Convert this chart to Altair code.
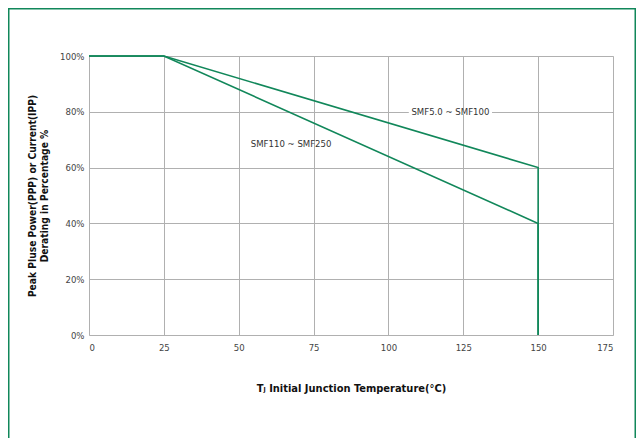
import altair as alt
import pandas as pd

temp_a = [0, 25, 150, 150]
pct_a = [100, 100, 60, 0]
temp_b = [0, 25, 150, 150]
pct_b = [100, 100, 40, 0]
series_names = ["SMF5.0 ~ SMF100", "SMF110 ~ SMF250"]
label_x = [120.7, 67.5]
label_y = [80, 68.5]
label_gap = [[106.8, 134.6], [None, None]]
x_ticks = [0, 25, 50, 75, 100, 125, 150, 175]
y_ticks = [0, 20, 40, 60, 80, 100]

rows = []
for i, (t, p) in enumerate(zip(temp_a, pct_a)):
    rows.append({"series": series_names[0], "order": i, "t": t, "p": p})
for i, (t, p) in enumerate(zip(temp_b, pct_b)):
    rows.append({"series": series_names[1], "order": i, "t": t, "p": p})
df = pd.DataFrame(rows)

lab = pd.DataFrame({"name": series_names, "x": label_x, "y": label_y})
gap = pd.DataFrame({"x": [label_gap[0][0]], "x2": [label_gap[0][1]], "y": [label_y[0]]})

FONT = "'DejaVu Sans Condensed', 'DejaVu Sans', sans-serif"
GREEN = "#11875a"

xs = alt.Scale(domain=[0, 175], nice=False)
ys = alt.Scale(domain=[0, 100], nice=False)

xaxis = alt.Axis(values=x_ticks, ticks=False, labelPadding=7, labelFontSize=9.5,
                 labelColor="#444", labelFont=FONT, grid=True, gridColor="#b0b0b0",
                 domain=False,
                 title="Tⱼ Initial Junction Temperature(°C)", titleFont=FONT,
                 titleFontSize=11, titleFontWeight="bold", titleColor="#111",
                 titlePadding=31)
yaxis = alt.Axis(values=y_ticks, ticks=False, labelPadding=5, labelFontSize=9.5,
                 labelColor="#444", labelFont=FONT, grid=True, gridColor="#b0b0b0",
                 labelExpr="datum.value + '%'", domain=False,
                 title=["Peak Pluse Power(PPP) or Current(IPP)", "Derating in Percentage %"],
                 titleFont=FONT, titleFontSize=10.2, titleFontWeight="bold", titleColor="#111",
                 titlePadding=10, titleLineHeight=12)

border = alt.Chart(pd.DataFrame({"a": [0]})).mark_rect(
    fill=None, stroke=GREEN, strokeWidth=1.5, clip=False
).encode(x=alt.value(-80.25), x2=alt.value(546.25), y=alt.value(-47.25), y2=alt.value(420))

lines = alt.Chart(df).mark_line(color=GREEN, strokeWidth=1.6, clip=False).encode(
    x=alt.X("t:Q", scale=xs, axis=xaxis),
    y=alt.Y("p:Q", scale=ys, axis=yaxis),
    detail="series:N",
    order="order:Q",
)

gaps = alt.Chart(gap).mark_rule(color="white", strokeWidth=4).encode(
    x=alt.X("x:Q", scale=xs), x2="x2:Q", y=alt.Y("y:Q", scale=ys)
)

texts = alt.Chart(lab).mark_text(font=FONT, fontSize=9.5, color="#333").encode(
    x=alt.X("x:Q", scale=xs), y=alt.Y("y:Q", scale=ys), text="name:N"
)

chart = alt.layer(border, gaps, lines, texts).properties(
    width=524, height=279,
    autosize=alt.AutoSizeParams(type="none"),
    padding={"left": 81, "top": 48, "right": 23, "bottom": 103},
).configure_view(stroke="#7a7a7a", strokeWidth=1.5).configure(background="white")

chart.save("out.html", embed_options={"renderer": "svg", "actions": False})
